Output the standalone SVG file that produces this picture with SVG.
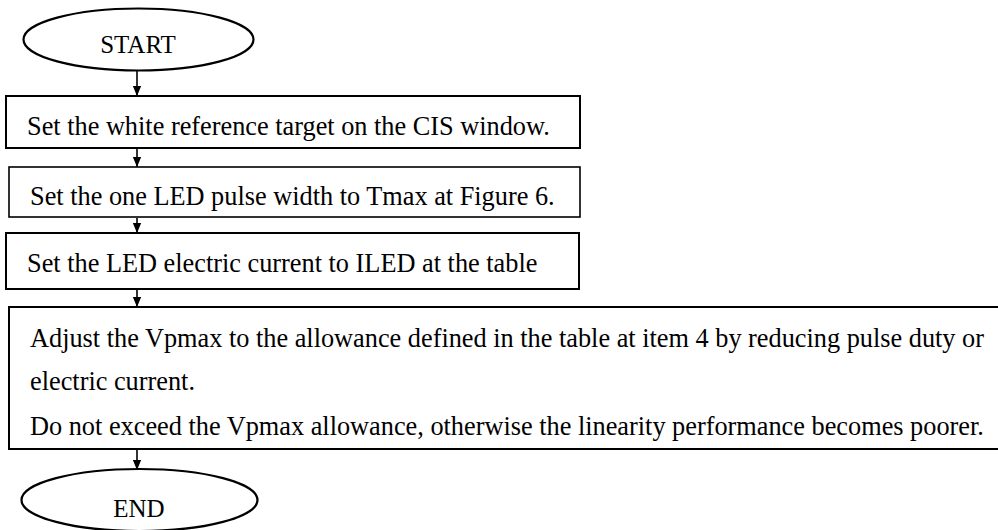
<svg xmlns="http://www.w3.org/2000/svg" width="998" height="530" viewBox="0 0 998 530">
<defs>
<marker id="arr" markerWidth="10" markerHeight="12" refX="12" refY="5" orient="auto" markerUnits="userSpaceOnUse" viewBox="0 0 12 10">
<path d="M0,0 L12,5 L0,10 Z" fill="#000"/>
</marker>
</defs>
<style>
.box{fill:#fff;stroke:#000;stroke-width:2}
.term{fill:#fff;stroke:#000;stroke-width:2.2}
.t{font-family:"Liberation Serif","Times New Roman",serif;font-size:26.3px;fill:#000}
.c{text-anchor:middle;font-size:25px}
.con{stroke:#000;stroke-width:1.6;fill:none;marker-end:url(#arr)}
</style>
<rect width="998" height="530" fill="#fff"/>
<g id="connectors">
<line class="con" x1="137" y1="71" x2="137" y2="96"/>
<line class="con" x1="137" y1="149" x2="137" y2="167"/>
<line class="con" x1="137" y1="218" x2="137" y2="233"/>
<line class="con" x1="137" y1="290" x2="137" y2="307"/>
<line class="con" x1="137" y1="450" x2="137" y2="470"/>
</g>
<g id="start">
<ellipse class="term" cx="138.5" cy="39.5" rx="115" ry="31"/>
<text class="t c" x="138" y="53">START</text>
</g>
<g id="step1">
<rect class="box" x="6" y="96" width="574" height="52"/>
<text class="t" x="27" y="135">Set the white reference target on the CIS window.</text>
</g>
<g id="step2">
<rect class="box" x="9" y="167" width="571" height="50" style="stroke-width:1.6"/>
<text class="t" x="30" y="205">Set the one LED pulse width to Tmax at Figure 6.</text>
</g>
<g id="step3">
<rect class="box" x="6" y="233" width="573" height="56"/>
<text class="t" x="27" y="272">Set the LED electric current to ILED at the table</text>
</g>
<g id="step4">
<rect class="box" x="9" y="307" width="1000" height="142"/>
<text class="t" x="30" y="347">Adjust the Vpmax to the allowance defined in the table at item 4 by reducing pulse duty or</text>
<text class="t" x="30" y="390">electric current.</text>
<text class="t" x="30" y="435">Do not exceed the Vpmax allowance, otherwise the linearity performance becomes poorer.</text>
</g>
<g id="end">
<ellipse class="term" cx="139.5" cy="500" rx="118" ry="31"/>
<text class="t c" x="139" y="517">END</text>
</g>
</svg>
